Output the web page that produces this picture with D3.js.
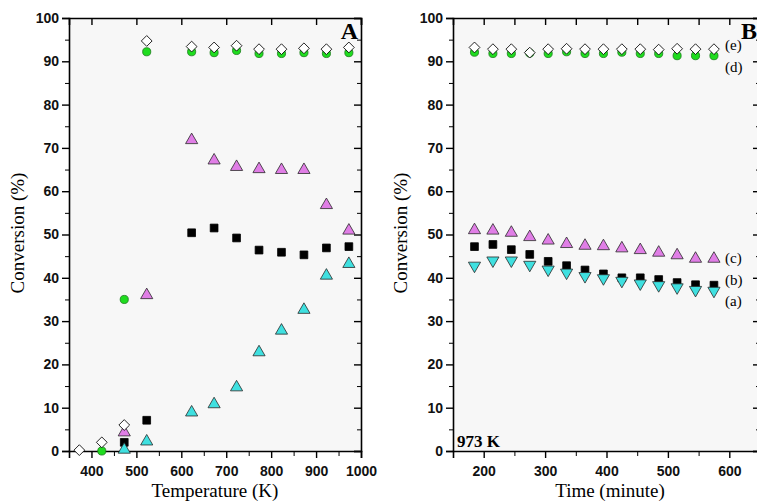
<!DOCTYPE html>
<html lang="en">
<head>
<meta charset="utf-8">
<script src="https://d3js.org/d3.v7.min.js"></script>
<style>
    body { margin: 0; background: #fff; }
    svg { display: block; font-family: "Liberation Serif", "Times New Roman", serif; }
    .tick text { font-weight: bold; font-size: 14px; }
</style>
</head>
<body>
<svg width="757" height="502"></svg>
<script>
// Panel A: conversion vs temperature
const tempA = [373, 423, 473, 523, 623, 673, 723, 773, 823, 873, 923, 973];
const tempA_a = [null, null, 0.3, 2.2, 8.9, 10.8, 14.7, 22.8, 27.8, 32.6, 40.5, 43.2];
const tempA_b = [null, null, 2.0, 7.1, 50.4, 51.5, 49.2, 46.4, 45.9, 45.3, 46.9, 47.2];
const tempA_c = [null, null, 4.3, 36.0, 71.8, 67.1, 65.6, 65.1, 64.9, 64.9, 56.8, 50.9];
const tempA_d = [null, 0.0, 35.0, 92.2, 92.2, 92.0, 92.5, 91.8, 91.8, 92.0, 91.8, 92.0];
const tempA_e = [0.2, 2.0, 6.0, 94.7, 93.4, 93.2, 93.6, 92.8, 92.8, 93.0, 92.8, 93.2];

// Panel B: conversion vs time at 973 K
const timeB = [185, 215, 245, 275, 305, 335, 365, 395, 425, 455, 485, 515, 545, 575];
const timeB_a = [42.8, 44.0, 44.0, 43.0, 41.9, 41.2, 40.4, 39.9, 39.3, 38.7, 38.3, 37.8, 37.2, 37.0];
const timeB_b = [47.2, 47.7, 46.5, 45.4, 43.8, 42.8, 41.8, 40.9, 40.0, 40.0, 39.6, 38.9, 38.4, 38.3];
const timeB_c = [51.0, 50.9, 50.4, 49.4, 48.6, 47.8, 47.4, 47.3, 46.8, 46.4, 45.8, 45.2, 44.4, 44.4];
const timeB_d = [92.1, 91.8, 91.8, 91.9, 91.8, 92.2, 91.8, 91.8, 92.1, 91.8, 91.8, 91.3, 91.3, 91.3];
const timeB_e = [93.2, 92.8, 92.8, 92.0, 92.8, 92.9, 92.8, 92.8, 92.8, 92.8, 92.7, 92.9, 92.8, 92.8];

const seriesLabels = ['(a)', '(b)', '(c)', '(d)', '(e)'];

// marker styles per series, drawn in this order (b, a, c, d, e)
const markers = {
    a: {type: d3.symbolTriangle, size: 64, rot: 0, fill: '#3fe0e0', stroke: '#2a2a2a'},
    b: {type: d3.symbolSquare, size: 60, rot: 0, fill: '#000', stroke: '#000'},
    c: {type: d3.symbolTriangle, size: 64, rot: 0, fill: '#e07ee6', stroke: '#2a2a2a'},
    d: {type: d3.symbolCircle, size: 52, rot: 0, fill: '#1fdc1f', stroke: '#1a7a1a'},
    e: {type: d3.symbolSquare, size: 58, rot: 45, fill: '#fff', stroke: '#000'}
};

const svg = d3.select('svg');
const yTicks = d3.range(0, 101, 10);

function drawPanel(p) {
    const x = d3.scaleLinear().domain(p.xDomain).range(p.xRange);
    const y = d3.scaleLinear().domain([0, 100]).range([451, 18]);
    const g = svg.append('g');

    g.append('rect')
        .attr('x', p.xRange[0]).attr('y', 18)
        .attr('width', p.xRange[1] - p.xRange[0]).attr('height', 433)
        .attr('fill', '#f7f7f7');

    // minor ticks
    const minorY = d3.range(5, 100, 10);
    g.append('g').attr('transform', `translate(${p.xRange[0]},0)`)
        .call(d3.axisLeft(y).tickValues(minorY).tickSize(4).tickFormat(''));
    g.append('g').attr('transform', `translate(${p.xRange[1]},0)`)
        .call(d3.axisLeft(y).tickValues(minorY).tickSize(4).tickFormat(''));
    if (p.xMinor) {
        g.append('g').attr('transform', 'translate(0,451)')
            .call(d3.axisBottom(x).tickValues(p.xMinor).tickSize(5).tickFormat(''));
    }

    // main axes
    const left = g.append('g').attr('transform', `translate(${p.xRange[0]},0)`)
        .call(d3.axisLeft(y).tickValues(yTicks).tickSize(7).tickPadding(3));
    const bottom = g.append('g').attr('transform', 'translate(0,451)')
        .call(d3.axisBottom(x).tickValues(p.xTicks).tickSize(7).tickPadding(5).tickFormat(d3.format('d')));
    const right = g.append('g').attr('transform', `translate(${p.xRange[1]},0)`)
        .call(d3.axisLeft(y).tickValues(yTicks).tickSize(7).tickFormat(''));
    const top = g.append('g').attr('transform', 'translate(0,18)')
        .call(d3.axisBottom(x).tickValues(p.xTopTicks).tickSize(7).tickFormat(''));
    [left, bottom, right, top].forEach(a => {
        a.selectAll('path').attr('stroke-width', 1.6);
        a.selectAll('line').attr('stroke-width', 1.4);
    });
    g.selectAll('.tick text').attr('fill', '#111');
    bottom.selectAll('.tick text').attr('dy', '0.9em');

    // points
    ['b', 'a', 'c', 'd', 'e'].forEach(k => {
        const m = markers[k];
        const rot = m.rot + (p.flip && p.flip[k] ? 180 : 0);
        const vals = p.series[k];
        const pts = p.xs.map((t, i) => ({t: t, v: vals[i]})).filter(d => d.v !== null);
        g.append('g').selectAll('path').data(pts).join('path')
            .attr('d', d3.symbol().type(m.type).size(m.size))
            .attr('transform', d => `translate(${x(d.t)},${y(d.v)}) rotate(${rot})`)
            .attr('fill', m.fill).attr('stroke', m.stroke).attr('stroke-width', 0.8);
    });

    // axis titles
    g.append('text')
        .attr('x', (p.xRange[0] + Math.min(p.xRange[1], 757)) / 2 + p.titleShift)
        .attr('y', 497)
        .attr('text-anchor', 'middle').attr('font-size', 19)
        .text(p.xTitle);
    g.append('text')
        .attr('transform', `translate(${p.yTitleX},233) rotate(-90)`)
        .attr('text-anchor', 'middle').attr('font-size', 19)
        .text('Conversion (%)');

    g.append('text')
        .attr('x', p.letterX).attr('y', 39)
        .attr('text-anchor', 'end').attr('font-size', 24).attr('font-weight', 'bold')
        .text(p.letter);
    return {x: x, y: y, g: g};
}

drawPanel({
    xDomain: [350, 1000], xRange: [69, 361],
    xTicks: d3.range(400, 1001, 100), xMinor: d3.range(450, 1000, 100),
    xTopTicks: d3.range(400, 1001, 100),
    xs: tempA,
    series: {a: tempA_a, b: tempA_b, c: tempA_c, d: tempA_d, e: tempA_e},
    xTitle: 'Temperature (K)', titleShift: 0, yTitleX: 24,
    letter: 'A', letterX: 358
});

const pB = drawPanel({
    xDomain: [150, 650], xRange: [453, 760],
    xTicks: d3.range(200, 601, 100), xMinor: d3.range(250, 650, 100),
    xTopTicks: d3.range(200, 651, 50),
    xs: timeB, flip: {a: true},
    series: {a: timeB_a, b: timeB_b, c: timeB_c, d: timeB_d, e: timeB_e},
    xTitle: 'Time (minute)', titleShift: 5, yTitleX: 407,
    letter: 'B', letterX: 757
});

// series labels on panel B
const labelY = [306, 285, 263, 72, 50];
pB.g.append('g').selectAll('text').data(seriesLabels).join('text')
    .attr('x', 725).attr('y', (d, i) => labelY[i])
    .attr('font-size', 15)
    .text(d => d);

pB.g.append('text')
    .attr('x', 457).attr('y', 447)
    .attr('font-size', 17).attr('font-weight', 'bold')
    .text('973 K');
</script>
</body>
</html>
